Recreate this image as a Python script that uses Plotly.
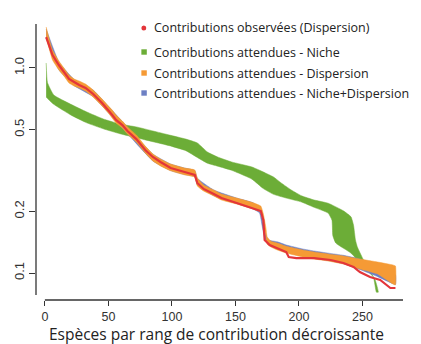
import plotly.graph_objects as go

# ---- data ----
niche_up_rank = [1, 2, 7, 20, 33, 46, 59, 72, 85, 98, 111, 120, 128, 136, 147, 163, 172, 180, 186, 194, 202, 212, 223, 235, 241, 243, 244.5, 246, 252, 260, 262.5]
niche_up_val = [1.058, 0.85, 0.738, 0.667, 0.610, 0.564, 0.533, 0.516, 0.493, 0.471, 0.450, 0.431, 0.389, 0.368, 0.348, 0.329, 0.311, 0.294, 0.275, 0.254, 0.238, 0.227, 0.219, 0.201, 0.188, 0.171, 0.145, 0.134, 0.112, 0.0925, 0.0806]
niche_lo_rank = [1, 3, 7, 20, 33, 46, 59, 72, 85, 98, 111, 120, 128, 136, 147, 163, 172, 180, 190, 202, 212, 223, 226, 226.7, 229, 241, 251, 258.6, 261]
niche_lo_val = [0.722, 0.70, 0.665, 0.592, 0.540, 0.505, 0.478, 0.457, 0.437, 0.418, 0.395, 0.366, 0.343, 0.332, 0.317, 0.287, 0.258, 0.242, 0.232, 0.222, 0.209, 0.196, 0.181, 0.152, 0.140, 0.125, 0.107, 0.0955, 0.0806]

disp_rank = [1, 3, 6, 11, 15, 19, 23, 27, 32, 38, 45, 50, 53, 56, 61, 65, 72, 79, 85, 91, 99, 110, 118, 120, 125, 133, 139, 151, 164, 170, 172, 174, 175, 178, 183, 190, 203, 212, 223, 235, 248, 262, 274, 276]
disp_up = [1.585, 1.416, 1.224, 1.082, 1.0, 0.924, 0.884, 0.864, 0.835, 0.781, 0.706, 0.653, 0.624, 0.590, 0.551, 0.516, 0.471, 0.416, 0.381, 0.360, 0.340, 0.325, 0.318, 0.291, 0.269, 0.254, 0.243, 0.232, 0.220, 0.212, 0.194, 0.166, 0.150, 0.143, 0.140, 0.135, 0.1295, 0.1266, 0.1238, 0.121, 0.117, 0.1131, 0.1094, 0.1082]
disp_lo = [1.401, 1.266, 1.094, 0.978, 0.914, 0.845, 0.817, 0.799, 0.772, 0.722, 0.653, 0.603, 0.570, 0.539, 0.510, 0.477, 0.435, 0.385, 0.352, 0.333, 0.315, 0.301, 0.294, 0.266, 0.251, 0.2375, 0.227, 0.217, 0.205, 0.198, 0.177, 0.1515, 0.1385, 0.1339, 0.1295, 0.1252, 0.1197, 0.117, 0.1144, 0.1106, 0.1046, 0.0989, 0.0884, 0.0874]

both_rank = [1, 11, 23, 38, 50, 65, 85, 99, 110, 118, 120, 133, 151, 164, 169, 171, 173, 176, 183, 190, 203, 212, 223, 235, 248, 262, 270, 276]
both_up = [1.55, 1.07, 0.88, 0.78, 0.65, 0.515, 0.38, 0.34, 0.325, 0.316, 0.29, 0.254, 0.232, 0.22, 0.205, 0.185, 0.16, 0.145, 0.142, 0.137, 0.131, 0.128, 0.125, 0.122, 0.117, 0.108, 0.102, 0.098]
both_lo = [1.40, 0.98, 0.82, 0.725, 0.605, 0.478, 0.352, 0.316, 0.302, 0.295, 0.268, 0.238, 0.218, 0.205, 0.196, 0.17, 0.148, 0.137, 0.133, 0.127, 0.121, 0.118, 0.115, 0.111, 0.104, 0.096, 0.091, 0.088]

obs_rank = [1, 3, 6, 11, 15, 19, 23, 27, 32, 38, 45, 50, 53, 56, 61, 65, 72, 79, 85, 91, 99, 110, 118, 120, 125, 133, 139, 151, 164, 170, 172, 173, 177, 183, 190, 192, 198, 212, 225, 235, 243, 248, 256, 264, 272, 276]
obs_val = [1.416, 1.295, 1.157, 1.034, 0.956, 0.884, 0.855, 0.826, 0.799, 0.747, 0.675, 0.624, 0.590, 0.558, 0.527, 0.493, 0.450, 0.398, 0.368, 0.348, 0.325, 0.311, 0.301, 0.275, 0.257, 0.243, 0.232, 0.2196, 0.2075, 0.2006, 0.181, 0.145, 0.137, 0.1324, 0.1266, 0.1197, 0.1183, 0.1183, 0.1157, 0.1119, 0.107, 0.1011, 0.0956, 0.0925, 0.0845, 0.0845]

x_ticks = [0, 50, 100, 150, 200, 250]
y_ticks = [0.1, 0.2, 0.5, 1.0]
y_ticktext = ["0.1", "0.2", "0.5", "1.0"]

legend_labels = ["Contributions observées (Dispersion)",
                 "Contributions attendues - Niche",
                 "Contributions attendues - Dispersion",
                 "Contributions attendues - Niche+Dispersion"]
x_title = "Espèces par rang de contribution décroissante"

GREEN = "#6cad37"
ORANGE = "#f59a35"
BLUE = "#6d80c4"
RED = "#e3353a"

fig = go.Figure()


def band(rank_up, up, rank_lo, lo, color):
    xs = list(rank_up) + list(reversed(rank_lo))
    ys = list(up) + list(reversed(lo))
    fig.add_trace(go.Scatter(x=xs, y=ys, mode="lines", fill="toself",
                             fillcolor=color,
                             line=dict(color=color, width=0.5, shape="spline", smoothing=0.4),
                             showlegend=False, hoverinfo="skip"))


band(niche_up_rank, niche_up_val, niche_lo_rank, niche_lo_val, GREEN)
band(both_rank, both_up, both_rank, both_lo, BLUE)
band(disp_rank, disp_up, disp_rank, disp_lo, ORANGE)
fig.add_trace(go.Scatter(x=obs_rank, y=obs_val, mode="lines",
                         line=dict(color=RED, width=2.2), showlegend=False))

W, H = 421, 344
ML, MR, MT, MB = 32, 15, 24, 44
PW, PH = W - ML - MR, H - MT - MB


def px_x(px):
    return (px - ML) / PW


def px_y(py):
    return (H - MB - py) / PH


shapes = []
# axis lines (R style, detached)
shapes.append(dict(type="line", xref="paper", yref="paper", x0=px_x(32), x1=px_x(32),
                   y0=px_y(24), y1=px_y(295), line=dict(color="#333", width=1.3)))
shapes.append(dict(type="line", xref="paper", yref="paper", x0=px_x(41), x1=px_x(403),
                   y0=px_y(300), y1=px_y(300), line=dict(color="#333", width=1.3)))

# legend keys and texts
leg_y = [28, 52, 73, 93]
leg_cols = [RED, GREEN, ORANGE, BLUE]
annotations = []
for i, (lab, col, yy) in enumerate(zip(legend_labels, leg_cols, leg_y)):
    if i == 0:
        shapes.append(dict(type="circle", xref="paper", yref="paper",
                           x0=px_x(138.5), x1=px_x(143.5), y0=px_y(30.5), y1=px_y(25.5),
                           fillcolor=col, line=dict(width=0)))
    else:
        shapes.append(dict(type="rect", xref="paper", yref="paper",
                           x0=px_x(138.5), x1=px_x(144), y0=px_y(yy + 2.7), y1=px_y(yy - 2.7),
                           fillcolor=col, line=dict(width=0)))
    annotations.append(dict(text=lab, xref="paper", yref="paper", x=px_x(149), y=px_y(yy),
                            xanchor="left", yanchor="middle", showarrow=False,
                            font=dict(family="Open Sans", size=12.5, color="#222")))

annotations.append(dict(text=x_title, xref="paper", yref="paper", x=px_x(214), y=px_y(333.5),
                        xanchor="center", yanchor="middle", showarrow=False,
                        font=dict(family="Open Sans", size=15.5, color="#222")))

fig.update_layout(
    width=W, height=H,
    margin=dict(l=ML, r=MR, t=MT, b=MB, pad=0),
    paper_bgcolor="white", plot_bgcolor="white",
    showlegend=False,
    shapes=shapes, annotations=annotations,
    xaxis=dict(range=[-7.0, 284.3], tickvals=x_ticks, ticks="outside", ticklen=5,
               tickcolor="#333", tickwidth=1.2, showgrid=False, zeroline=False, showline=False,
               ticklabelstandoff=0,
               tickfont=dict(family="Liberation Sans", size=12.5, color="#333")),
    yaxis=dict(type="log", range=[-1.1317, 0.2146], tickvals=y_ticks, ticktext=y_ticktext,
               ticks="outside", ticklen=6, tickcolor="#333", tickwidth=1.2, tickangle=-90,
               showgrid=False, zeroline=False, showline=False,
               tickfont=dict(family="Liberation Sans", size=13, color="#333")),
)

fig.write_html("out.html")
